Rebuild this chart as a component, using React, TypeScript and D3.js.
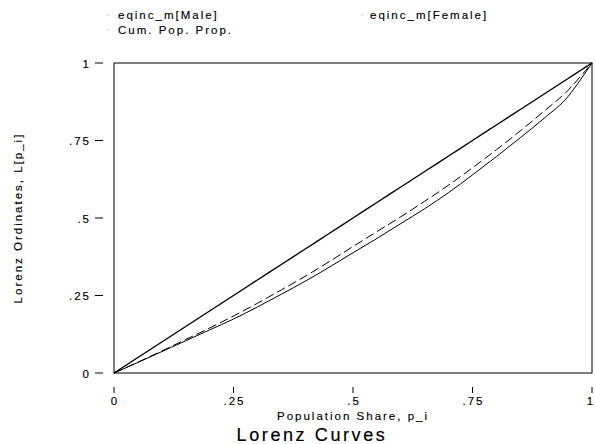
import React from "react";
import * as d3 from "d3";

const popShare = [0, 0.05, 0.1, 0.15, 0.2, 0.25, 0.3, 0.35, 0.4, 0.45, 0.5, 0.55, 0.6, 0.65, 0.7, 0.75, 0.8, 0.85, 0.9, 0.95, 0.975, 1];
const maleL = [0, 0.034, 0.069, 0.104, 0.139, 0.174, 0.213, 0.254, 0.296, 0.341, 0.388, 0.434, 0.482, 0.53, 0.582, 0.639, 0.698, 0.759, 0.822, 0.892, 0.944, 1];
const femaleL = [0, 0.035, 0.071, 0.108, 0.145, 0.184, 0.225, 0.268, 0.312, 0.359, 0.408, 0.456, 0.504, 0.554, 0.606, 0.662, 0.72, 0.781, 0.845, 0.912, 0.955, 1];
const cumPopProp = [0, 0.05, 0.1, 0.15, 0.2, 0.25, 0.3, 0.35, 0.4, 0.45, 0.5, 0.55, 0.6, 0.65, 0.7, 0.75, 0.8, 0.85, 0.9, 0.95, 0.975, 1];

const xTicks = [0, 0.25, 0.5, 0.75, 1];
const xTickLabels = ["0", ".25", ".5", ".75", "1"];
const yTicks = [0, 0.25, 0.5, 0.75, 1];
const yTickLabels = ["0", ".25", ".5", ".75", "1"];

const legendLabels = ["eqinc_m[Male]", "eqinc_m[Female]", "Cum. Pop. Prop."];

const FONT = "'Liberation Sans', Arial, Helvetica, sans-serif";

export default function App() {
  const W = 595, H = 444;
  const x = d3.scaleLinear().domain([0, 1]).range([114, 592]);
  const y = d3.scaleLinear().domain([0, 1]).range([373, 63]);

  const mk = (vals: number[]) =>
    d3.line<number>()
      .x((_, i) => x(popShare[i]))
      .y((v) => y(v))
      .curve(d3.curveMonotoneX)(vals) as string;

  const txt = { fontFamily: FONT, fontSize: 11.5, letterSpacing: 2, fill: "#000", stroke: "#000", strokeWidth: 0.15 } as const;

  const legendPos = [
    { lx: 108, tx: 118, ty: 19 },
    { lx: 362, tx: 370, ty: 19 },
    { lx: 108, tx: 118, ty: 34 },
  ];

  return (
    <svg width={W} height={H} style={{ position: "absolute", left: 0, top: 0, background: "#fff" }}>
      <rect x={0} y={0} width={W} height={H} fill="#fff" />
      {legendLabels.map((l, i) => (
        <g key={l}>
          <line x1={legendPos[i].lx - 0.5} x2={legendPos[i].lx + 0.5} y1={legendPos[i].ty - 4} y2={legendPos[i].ty - 4} stroke="#888" strokeWidth={1} />
          <text x={legendPos[i].tx} y={legendPos[i].ty} {...txt}>{l}</text>
        </g>
      ))}

      <rect x={x(0)} y={y(1)} width={x(1) - x(0)} height={y(0) - y(1)} fill="none" stroke="#000" strokeWidth={1} />

      {yTicks.map((t, i) => (
        <g key={"y" + t}>
          <line x1={95} x2={103} y1={y(t)} y2={y(t)} stroke="#000" strokeWidth={1} />
          <text x={91} y={y(t) + 4.5} textAnchor="end" {...txt}>{yTickLabels[i]}</text>
        </g>
      ))}
      {xTicks.map((t, i) => (
        <g key={"x" + t}>
          <line x1={x(t)} x2={x(t)} y1={387} y2={393} stroke="#000" strokeWidth={1} />
          <text x={t === 1 ? x(t) - 1 : x(t) + 1} y={405} textAnchor="middle" {...txt}>{xTickLabels[i]}</text>
        </g>
      ))}

      <text x={353} y={420} textAnchor="middle" {...txt}>Population Share, p_i</text>
      <text transform="translate(21.5,218) rotate(-90)" textAnchor="middle" {...txt}>Lorenz Ordinates, L[p_i]</text>
      <text x={312} y={440.5} textAnchor="middle" fontFamily={FONT} fontSize={18} letterSpacing={2.6} fill="#000" stroke="#000" strokeWidth={0.2}>Lorenz Curves</text>

      <path d={mk(cumPopProp)} fill="none" stroke="#000" strokeWidth={1.4} />
      <path d={mk(maleL)} fill="none" stroke="#000" strokeWidth={1} />
      <path d={mk(femaleL)} fill="none" stroke="#000" strokeWidth={1} strokeDasharray="9 4" />
    </svg>
  );
}
